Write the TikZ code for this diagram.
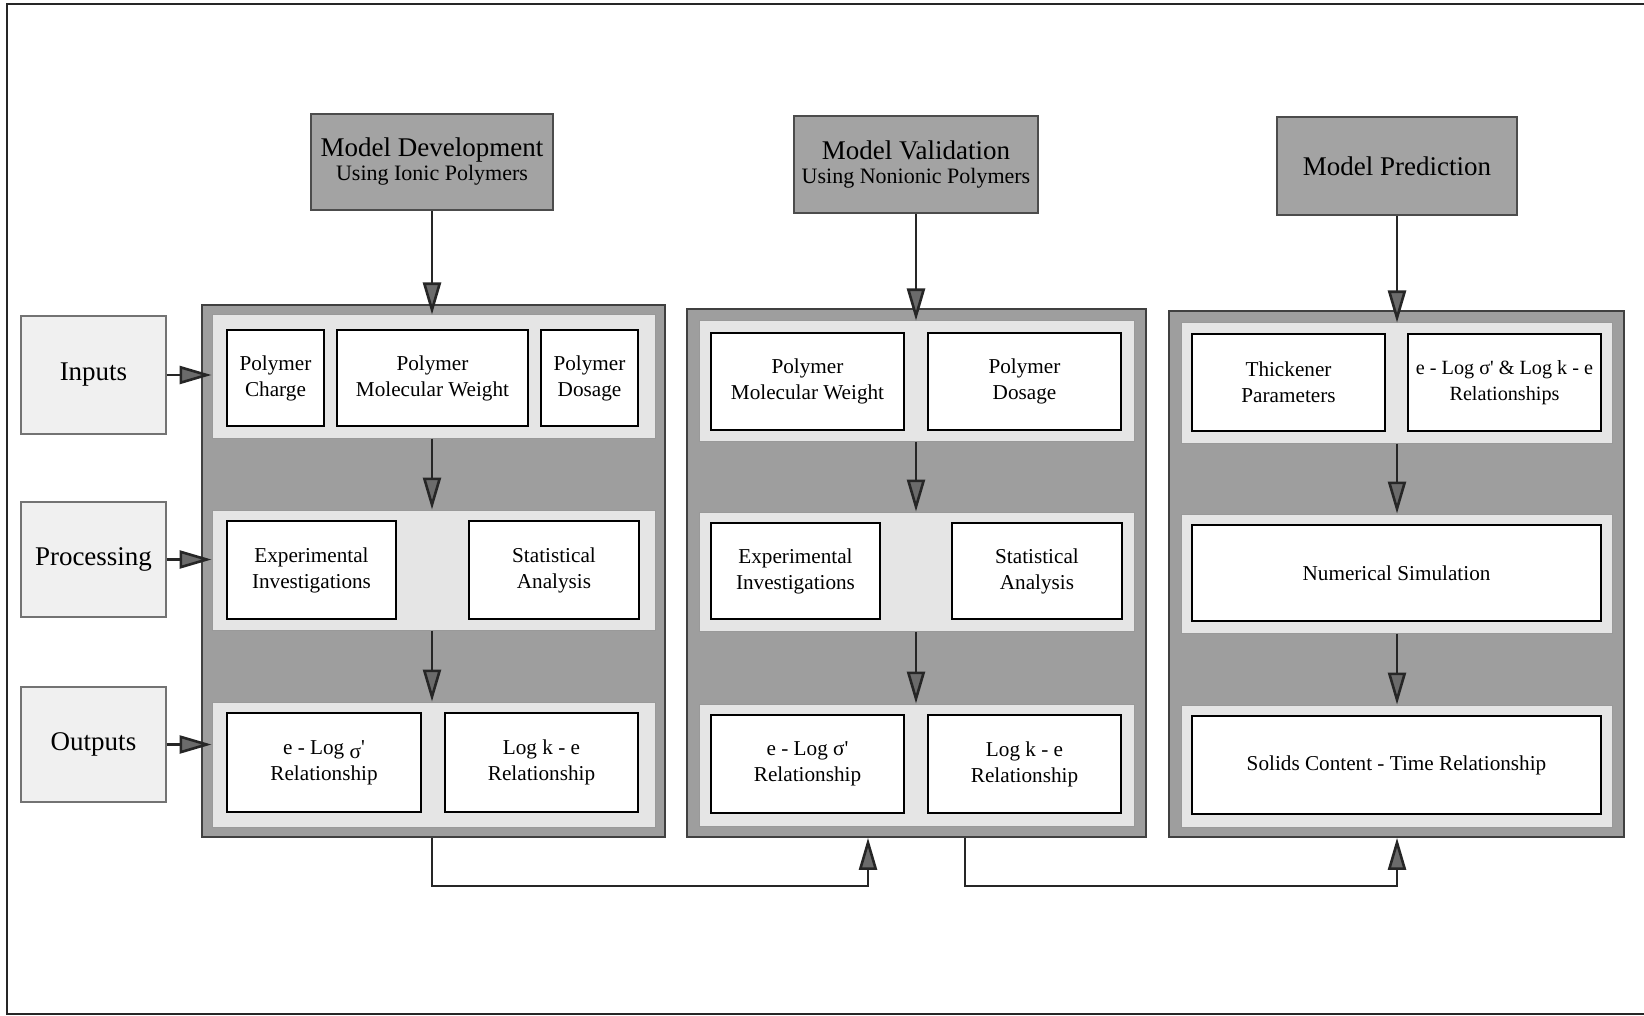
\documentclass[tikz,border=0pt]{standalone}
\usepackage{fontspec}
\setmainfont{Liberation Serif}
\usetikzlibrary{arrows.meta}
\colorlet{tipgray}{black!58}
\newcommand{\bxnode}[7]{\node[#1, minimum width={(#5-#3)*0.5pt}, minimum height={(#6-#4)*0.5pt}] (#2) at ({(#3+#5)/2},{(#4+#6)/2}) {#7};}
\begin{document}
\begin{tikzpicture}[x=0.5pt,y=-0.5pt,
  frame/.style={draw=black!85, line width=1pt},
  head/.style={draw=black!70, line width=0.8pt, fill=black!36, inner sep=0pt, align=center, font=\fontsize{13.5}{12}\selectfont},
  panel/.style={draw=black!75, line width=0.9pt, fill=black!38, inner sep=0pt},
  band/.style={draw=black!40, line width=0.5pt, fill=black!10, inner sep=0pt},
  cell/.style={draw=black, line width=0.7pt, fill=white, inner sep=0pt, align=center, font=\fontsize{10.6}{13}\selectfont},
  lab/.style={draw=black!55, line width=0.6pt, fill=black!6, inner sep=0pt, font=\fontsize{13.5}{16}\selectfont},
  arr/.style={draw=black!85, line width=1.3pt, -{Triangle[length=16pt, width=9pt, fill=tipgray]}}]
\useasboundingbox (0,0) rectangle (1644,1016);
\draw[frame] (1644,4) -- (7,4) -- (7,1014) -- (1644,1014);
% headers
\bxnode{head}{MD}{311}{114}{553}{210}{Model Development\\{\fontsize{11}{12}\selectfont Using Ionic Polymers}}
\bxnode{head}{MV}{794}{116}{1038}{213}{Model Validation\\{\fontsize{11}{12}\selectfont Using Nonionic Polymers}}
\bxnode{head}{MP}{1277}{117}{1517}{215}{Model Prediction}
% panel 1
\bxnode{panel}{P1}{202}{305}{665}{837}{}
\bxnode{band}{P1a}{212}{315}{655}{438}{}
\bxnode{band}{P1b}{212}{510}{655}{630}{}
\bxnode{band}{P1c}{212}{702}{655}{827}{}
\bxnode{cell}{C11}{227}{330}{324}{426}{Polymer\\Charge}
\bxnode{cell}{C12}{337}{330}{528}{426}{Polymer\\Molecular Weight}
\bxnode{cell}{C13}{541}{330}{638}{426}{Polymer\\Dosage}
\bxnode{cell}{C14}{227}{521}{396}{619}{Experimental\\Investigations}
\bxnode{cell}{C15}{469}{521}{639}{619}{Statistical\\Analysis}
\bxnode{cell}{C16}{227}{713}{421}{812}{e - Log \raisebox{-2pt}{σ}\textquotesingle\\Relationship}
\bxnode{cell}{C17}{445}{713}{638}{812}{Log k - e\\Relationship}
% panel 2
\bxnode{panel}{P2}{687}{309}{1146}{837}{}
\bxnode{band}{P2a}{699}{321}{1134}{441}{}
\bxnode{band}{P2b}{699}{512}{1134}{631}{}
\bxnode{band}{P2c}{699}{704}{1134}{826}{}
\bxnode{cell}{C21}{711}{333}{904}{430}{Polymer\\Molecular Weight}
\bxnode{cell}{C22}{928}{333}{1121}{430}{Polymer\\Dosage}
\bxnode{cell}{C23}{711}{523}{880}{619}{Experimental\\Investigations}
\bxnode{cell}{C24}{952}{523}{1122}{619}{Statistical\\Analysis}
\bxnode{cell}{C25}{711}{715}{904}{813}{e - Log σ\textquotesingle\\Relationship}
\bxnode{cell}{C26}{928}{715}{1121}{813}{Log k - e\\Relationship}
% panel 3
\bxnode{panel}{P3}{1169}{311}{1624}{837}{}
\bxnode{band}{P3a}{1181}{323}{1612}{443}{}
\bxnode{band}{P3b}{1181}{514}{1612}{633}{}
\bxnode{band}{P3c}{1181}{705}{1612}{827}{}
\bxnode{cell}{C31}{1192}{334}{1385}{431}{Thickener\\Parameters}
\bxnode{cell,font=\fontsize{10.1}{13}\selectfont}{C32}{1408}{334}{1601}{431}{e - Log σ\textquotesingle{} \& Log k - e\\Relationships}
\bxnode{cell}{C33}{1192}{525}{1601}{621}{Numerical Simulation}
\bxnode{cell}{C34}{1192}{716}{1601}{814}{Solids Content - Time Relationship}
% side labels
\bxnode{lab}{Lin}{21}{316}{166}{434}{Inputs}
\bxnode{lab}{Lpr}{21}{502}{166}{617}{Processing}
\bxnode{lab}{Lout}{21}{687}{166}{802}{Outputs}
% arrows
\draw[arr] (MD) -- (MD |- P1a.north);
\draw[arr] (P1a.south -| MD) -- (P1b.north -| MD);
\draw[arr] (P1b.south -| MD) -- (P1c.north -| MD);
\draw[arr] (MV) -- (MV |- P2a.north);
\draw[arr] (P2a.south -| MV) -- (P2b.north -| MV);
\draw[arr] (P2b.south -| MV) -- (P2c.north -| MV);
\draw[arr] (MP) -- (MP |- P3a.north);
\draw[arr] (P3a.south -| MP) -- (P3b.north -| MP);
\draw[arr] (P3b.south -| MP) -- (P3c.north -| MP);
\draw[arr] (Lin) -- (Lin -| P1a.west);
\draw[arr] (Lpr) -- (Lpr -| P1b.west);
\draw[arr] (Lout) -- (Lout -| P1c.west);
\coordinate (J1) at (868,886);
\coordinate (J2) at (965,886);
\draw[arr] (P1.south -| MD) |- (J1) -- (J1 |- P2.south);
\draw[arr] (P2.south -| J2) -- (J2) -| (P3.south -| MP);
\end{tikzpicture}
\end{document}
